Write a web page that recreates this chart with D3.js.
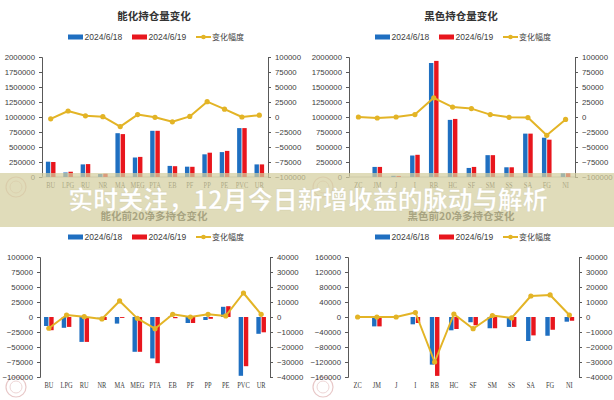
<!DOCTYPE html>
<html><head><meta charset="utf-8">
<script src="https://cdn.jsdelivr.net/npm/d3@7"></script>
<style>
html,body{margin:0;padding:0;background:#fff;}
svg{display:block;}
</style></head>
<body>
<script>
// ---------- DATA ----------
const legendLabels = ["2024/6/18", "2024/6/19", "变化幅度"];
const bannerText = "实时关注，12月今日新增收益的脉动与解析";

// Panel 1: 能化持仓量变化
const p1Title = "能化持仓量变化";
const p1Cats = ["BU","LPG","RU","NR","MA","MEG","PTA","EB","PF","PP","PE","PVC","UR"];
const p1D1 = [255000, 75000, 210000, 50000, 730000, 325000, 770000, 185000, 172000, 378000, 415000, 815000, 210000];
const p1D2 = [250000, 88000, 215000, 55000, 715000, 335000, 770000, 180000, 170000, 405000, 435000, 815000, 210000];
const p1Chg = [-3000, 10000, 2000, 500, -16000, 4000, -500, -8000, 1000, 25500, 13000, 0, 3000];
const p1LeftTicks = [0,250000,500000,750000,1000000,1250000,1500000,1750000,2000000];
const p1RightTicks = [-100000,-75000,-50000,-25000,0,25000,50000,75000,100000];

// Panel 2: 黑色持仓量变化
const p2Title = "黑色持仓量变化";
const p2Cats = ["ZC","JM","J","I","RB","HC","SF","SM","SS","SA","FG","NI"];
const p2D1 = [0, 168000, 20000, 358000, 1900000, 952000, 151000, 364000, 162000, 723000, 655000, 62000];
const p2D2 = [0, 168000, 18000, 370000, 1935000, 968000, 168000, 364000, 162000, 723000, 622000, 62000];
const p2Chg = [0, -1700, 0, 4000, 32000, 16500, 14000, 4000, -500, -1000, -30500, -4000];
const p2LeftTicks = p1LeftTicks;
const p2RightTicks = p1RightTicks;

// Panel 3: 能化前20净多持仓变化
const p3Title = "能化前20净多持仓变化";
const p3Cats = p1Cats;
const p3D1 = [-15000, -18000, -41500, -500, -11000, -58000, -69000, 500, -10000, -5000, 17000, -98000, -28000];
const p3D2 = [-22000, -16500, -41500, -5000, -1500, -58000, -77000, -2000, -10000, -3000, 18000, -82000, -25500];
const p3Chg = [-7500, 1300, 200, -1300, 10700, -900, -7800, 1800, 0, 1800, 700, 16000, 1800];
const p3LeftTicks = [-100000,-75000,-50000,-25000,0,25000,50000,75000,100000];
const p3RightTicks = [-40000,-30000,-20000,-10000,0,10000,20000,30000,40000];

// Panel 4: 黑色前20净多持仓变化
const p4Title = "黑色前20净多持仓变化";
const p4Cats = p2Cats;
const p4D1 = [0, -25000, 0, -19500, -127000, -35500, -14000, -30000, -26500, -64000, -50000, -12500];
const p4D2 = [0, -25000, 0, -16000, -157000, -32000, -22000, -30000, -26500, -49000, -34000, -10000];
const p4Chg = [0, 0, 0, 3000, -30000, 2000, -7800, 1000, -600, 14000, 14700, 1300];
const p4LeftTicks = [-160000,-120000,-80000,-40000,0,40000,80000,120000,160000];
const p4RightTicks = p3RightTicks;

// ---------- STYLE ----------
const BLUE = "#1f6fc1", RED = "#e8161d", GOLD = "#e3b426";
const W = 614, H = 400;
const svg = d3.select("body").append("svg").attr("width", W).attr("height", H);

function panel(cfg) {
  const g = svg.append("g").attr("transform", `translate(${cfg.ox},${cfg.oy})`);
  // title
  g.append("text").attr("x", 154).attr("y", 20).attr("text-anchor","middle")
    .attr("font-family","'Noto Sans CJK SC', sans-serif").attr("font-weight","bold")
    .attr("font-size", 10.5).attr("fill","#333").text(cfg.title);
  // legend
  const ly = 37;
  const lg = g.append("g").attr("font-family","'Liberation Sans', Arial, sans-serif").attr("font-size",8.5).attr("fill","#404040");
  lg.append("rect").attr("x",68).attr("y",ly-2.5).attr("width",15).attr("height",5).attr("fill",BLUE);
  lg.append("text").attr("x",84.5).attr("y",ly+3).text(legendLabels[0]);
  lg.append("rect").attr("x",132).attr("y",ly-2.5).attr("width",15).attr("height",5).attr("fill",RED);
  lg.append("text").attr("x",148.5).attr("y",ly+3).text(legendLabels[1]);
  lg.append("line").attr("x1",196).attr("x2",211).attr("y1",ly).attr("y2",ly).attr("stroke",GOLD).attr("stroke-width",2);
  lg.append("circle").attr("cx",203.5).attr("cy",ly).attr("r",2.3).attr("fill",GOLD);
  lg.append("text").attr("x",212).attr("y",ly+3).attr("font-family","'Noto Sans CJK SC', sans-serif").attr("font-size",8).text(legendLabels[2]);

  const x = d3.scaleBand().domain(cfg.cats).range([cfg.x0, cfg.x1]);
  const yL = d3.scaleLinear().domain(cfg.lDom).range([cfg.y1, cfg.y0]);
  const yR = d3.scaleLinear().domain(cfg.rDom).range([cfg.y1, cfg.y0]);

  // watermark logo
  g.append("circle").attr("cx",16).attr("cy",cfg.y1+10).attr("r",10).attr("fill","none").attr("stroke","#e8c8c8").attr("stroke-width",1.2);
  g.append("circle").attr("cx",16).attr("cy",cfg.y1+10).attr("r",6).attr("fill","none").attr("stroke","#eed6d6").attr("stroke-width",1);

  // axes
  const fmt = d3.format("d");
  const la = g.append("g").attr("transform",`translate(${cfg.x0},0)`)
    .call(d3.axisLeft(yL).tickValues(cfg.lTicks).tickFormat(fmt).tickSize(3).tickPadding(4));
  const ra = g.append("g").attr("transform",`translate(${cfg.x1},0)`)
    .call(d3.axisRight(yR).tickValues(cfg.rTicks).tickFormat(fmt).tickSize(3).tickPadding(4));
  [la, ra].forEach(a => {
    a.selectAll("path").attr("stroke","#595959");
    a.selectAll("line").attr("stroke","#595959");
    a.selectAll("text").attr("font-family","'Liberation Sans', Arial, sans-serif").attr("font-size",7.8).attr("fill","#404040");
  });
  if (cfg.baseLine) {
    g.append("line").attr("x1",cfg.x0).attr("x2",cfg.x1).attr("y1",yL(0)).attr("y2",yL(0)).attr("stroke","#bfbfbf").attr("stroke-width",1);
  }
  // x labels (condensed serif)
  const xa = g.append("g").attr("transform",`translate(0,${cfg.y1})`)
    .call(d3.axisBottom(x).tickSize(0).tickPadding(5));
  xa.select("path").remove();
  xa.selectAll("text").attr("font-family","'Liberation Serif', 'Times New Roman', serif").attr("font-size",8).attr("fill","#404040")
    .each(function() {
      const len = this.getComputedTextLength();
      d3.select(this).attr("textLength", len * 0.8).attr("lengthAdjust","spacingAndGlyphs");
    });

  // bars
  const bw = 4.4, gap = 0.8;
  const bars = g.append("g");
  cfg.cats.forEach((c, i) => {
    const cx = x(c) + x.bandwidth()/2;
    [[cfg.d1[i], BLUE, cx - gap/2 - bw], [cfg.d2[i], RED, cx + gap/2]].forEach(([v, col, bx]) => {
      const ya = yL(Math.max(0, v)), yb = yL(Math.min(0, v));
      bars.append("rect").attr("x", bx).attr("y", ya).attr("width", bw).attr("height", Math.max(0, yb - ya)).attr("fill", col);
    });
  });
  // line
  const line = d3.line().x((d,i) => x(cfg.cats[i]) + x.bandwidth()/2).y(d => yR(d));
  g.append("path").datum(cfg.chg).attr("d", line).attr("fill","none").attr("stroke",GOLD).attr("stroke-width",2).attr("stroke-linejoin","round");
  g.selectAll(null).data(cfg.chg).enter().append("circle")
    .attr("cx",(d,i) => x(cfg.cats[i]) + x.bandwidth()/2).attr("cy", d => yR(d)).attr("r",2.6).attr("fill",GOLD);
}

panel({ox:0, oy:0, title:p1Title, cats:p1Cats, d1:p1D1, d2:p1D2, chg:p1Chg, x0:42, x1:268, y0:57, y1:177,
  lDom:[0,2000000], rDom:[-100000,100000], lTicks:p1LeftTicks, rTicks:p1RightTicks, baseLine:true});
panel({ox:307, oy:0, title:p2Title, cats:p2Cats, d1:p2D1, d2:p2D2, chg:p2Chg, x0:42, x1:268, y0:57, y1:177,
  lDom:[0,2000000], rDom:[-100000,100000], lTicks:p2LeftTicks, rTicks:p2RightTicks, baseLine:true});
panel({ox:0, oy:200, title:p3Title, cats:p3Cats, d1:p3D1, d2:p3D2, chg:p3Chg, x0:40, x1:270, y0:57, y1:177,
  lDom:[-100000,100000], rDom:[-40000,40000], lTicks:p3LeftTicks, rTicks:p3RightTicks, baseLine:false});
panel({ox:307, oy:200, title:p4Title, cats:p4Cats, d1:p4D1, d2:p4D2, chg:p4Chg, x0:41, x1:272, y0:57, y1:177,
  lDom:[-160000,160000], rDom:[-40000,40000], lTicks:p4LeftTicks, rTicks:p4RightTicks, baseLine:false});

// banner overlay
svg.append("rect").attr("x",0).attr("y",173).attr("width",W).attr("height",54).attr("fill","rgba(212,207,160,0.72)");
svg.append("text").attr("x",308).attr("y",209).attr("text-anchor","middle")
  .attr("font-family","'Noto Sans CJK SC', sans-serif").attr("font-weight","bold").attr("font-size",25)
  .attr("fill","#ffffff").attr("stroke","rgba(180,175,130,0.35)").attr("stroke-width",0.6)
  .text(bannerText);
</script>
</body></html>
